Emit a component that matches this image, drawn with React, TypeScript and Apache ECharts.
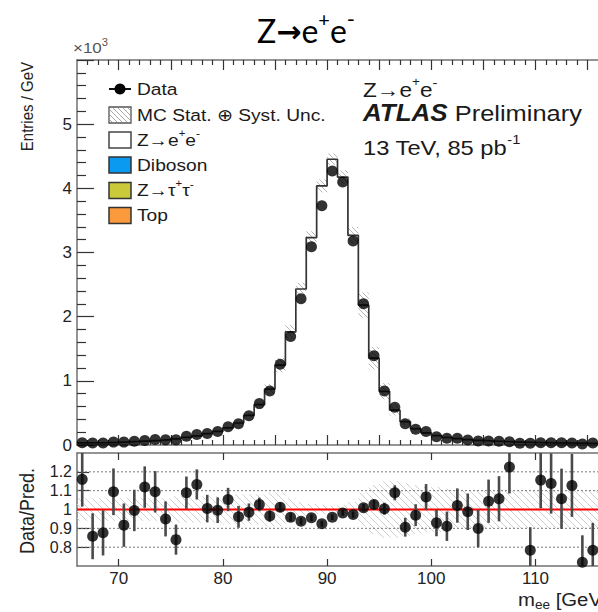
import React, { useEffect, useRef } from "react";
import * as echarts from "echarts";

// ---------- data (values in units of 10^3 entries / GeV) ----------
const X_MIN = 66;
const X_MAX = 116;
const BIN_WIDTH = 1;

const dataValues = [
  0.036, 0.030, 0.032, 0.045, 0.045, 0.058, 0.070, 0.085, 0.080, 0.080,
  0.135, 0.165, 0.180, 0.210, 0.285, 0.330, 0.455, 0.645, 0.840, 1.26,
  1.69, 2.28, 3.09, 3.73, 4.27, 4.10, 3.18, 2.20, 1.39, 0.84,
  0.59, 0.33, 0.245, 0.21, 0.13, 0.104, 0.104, 0.078, 0.063, 0.063,
  0.057, 0.052, 0.026, 0.026, 0.036, 0.036, 0.036, 0.031, 0.016, 0.030,
];

const mcValues = [
  0.032, 0.035, 0.038, 0.042, 0.048, 0.055, 0.063, 0.072, 0.083, 0.097,
  0.118, 0.143, 0.176, 0.212, 0.268, 0.343, 0.461, 0.628, 0.870, 1.245,
  1.762, 2.431, 3.232, 4.037, 4.453, 4.175, 3.268, 2.180, 1.353, 0.837,
  0.542, 0.364, 0.253, 0.190, 0.145, 0.117, 0.098, 0.083, 0.071, 0.062,
  0.055, 0.049, 0.044, 0.040, 0.037, 0.034, 0.032, 0.030, 0.028, 0.027,
];

// relative MC stat (+) syst uncertainty per bin
const bandUnc = [
  0.06, 0.06, 0.06, 0.06, 0.06, 0.06, 0.06, 0.06, 0.06, 0.07,
  0.07, 0.07, 0.07, 0.07, 0.08, 0.08, 0.08, 0.08, 0.09, 0.09,
  0.06, 0.04, 0.03, 0.025, 0.02, 0.025, 0.04, 0.09, 0.13, 0.15,
  0.15, 0.14, 0.13, 0.12, 0.12, 0.11, 0.10, 0.10, 0.10, 0.10,
  0.10, 0.10, 0.10, 0.10, 0.10, 0.10, 0.10, 0.10, 0.10, 0.10,
];

const ratioValues: (number | null)[] = [
  1.16, 0.858, 0.876, 1.094, 0.917, 0.995, 1.119, 1.094, 0.95, 0.84,
  1.089, 1.133, 1.005, 0.996, 1.053, 0.961, 0.986, 1.027, 0.965, 1.012,
  0.959, 0.938, 0.956, 0.924, 0.959, 0.982, 0.973, 1.009, 1.027, 1.004,
  1.089, 0.906, 0.97, 1.067, 0.929, 0.911, 1.021, 0.988, 0.899, 1.044,
  1.057, 1.225, null, 0.784, 1.156, 1.138, 1.057, 1.128, 0.72, 0.784,
];

const ratioErrors = [
  0.145, 0.122, 0.12, 0.124, 0.115, 0.11, 0.11, 0.11, 0.093, 0.08,
  0.086, 0.08, 0.073, 0.068, 0.062, 0.058, 0.046, 0.036, 0.03, 0.025,
  0.022, 0.019, 0.017, 0.016, 0.015, 0.015, 0.017, 0.02, 0.025, 0.032,
  0.04, 0.05, 0.058, 0.068, 0.071, 0.078, 0.091, 0.097, 0.1, 0.115,
  0.12, 0.14, 0.2, 0.122, 0.15, 0.16, 0.16, 0.167, 0.143, 0.145,
];

const xTicks10 = [70, 80, 90, 100, 110];
const xTicks5 = [70, 75, 80, 85, 90, 95, 100, 105, 110, 115];
const xTicks1 = [
  67, 68, 69, 71, 72, 73, 74, 76, 77, 78, 79, 81, 82, 83, 84, 86, 87, 88, 89,
  91, 92, 93, 94, 96, 97, 98, 99, 101, 102, 103, 104, 106, 107, 108, 109,
  111, 112, 113, 114,
];
const ratioTicks = [0.8, 0.9, 1, 1.1, 1.2];
const ratioGridLines = [0.8, 0.9, 1.1, 1.2];

const legendColors = ["#0a9bf0", "#c9c93a", "#fb9a3c"];

// ---------- helpers ----------
const FONT = "Liberation Sans";
const STRETCH = 1.13;
let measureCtx: CanvasRenderingContext2D | null = null;
function measure(font: string, text: string) {
  if (!measureCtx) measureCtx = document.createElement("canvas").getContext("2d");
  measureCtx!.font = font;
  return measureCtx!.measureText(text).width;
}

type Piece = { t: string; size: number; bold?: boolean; italic?: boolean; dy?: number; family?: string };

function textRun(
  x: number,
  cy: number,
  pieces: Piece[],
  opts: { align?: "left" | "center"; scaleX?: number; color?: string } = {}
) {
  let cur = 0;
  const children: any[] = [];
  const color = opts.color || "#1a1a1a";
  for (const p of pieces) {
    const fam = p.family || FONT;
    const font = `${p.italic ? "italic " : ""}${p.bold ? "bold " : ""}${p.size}px "${fam}"`;
    const w = measure(font, p.t);
    children.push({
      type: "text",
      x: cur,
      y: p.dy || 0,
      style: {
        text: p.t,
        font,
        fill: color,
        align: "left",
        textAlign: "left",
        verticalAlign: "middle",
        textVerticalAlign: "middle",
      },
    });
    cur += w;
  }
  const sx = opts.scaleX || 1;
  const startX = opts.align === "center" ? x - (cur * sx) / 2 : x;
  return { type: "group", x: startX, y: cy, scaleX: sx, children, silent: true };
}

function hatchLines(x0: number, y0: number, x1: number, y1: number, spacing: number, color: string) {
  const left = Math.min(x0, x1), right = Math.max(x0, x1);
  const top = Math.min(y0, y1), bottom = Math.max(y0, y1);
  const out: any[] = [];
  const cStart = Math.ceil((left - bottom) / spacing) * spacing;
  for (let c = cStart; c <= right - top; c += spacing) {
    const lo = Math.max(left, top + c);
    const hi = Math.min(right, bottom + c);
    if (hi > lo) {
      out.push({
        type: "line",
        shape: { x1: lo, y1: lo - c, x2: hi, y2: hi - c },
        style: { stroke: color, lineWidth: 1 },
        silent: true,
      });
    }
  }
  return out;
}

function buildOption() {
  const binCenters = dataValues.map((_, i) => X_MIN + BIN_WIDTH * (i + 0.5));
  const stepData = mcValues.map((v, i) => [X_MIN + i * BIN_WIDTH, v]);
  stepData.push([X_MAX, mcValues[mcValues.length - 1]]);

  const ratioPts: number[][] = [];
  binCenters.forEach((c, i) => {
    const r = ratioValues[i];
    if (r !== null) ratioPts.push([c, r, ratioErrors[i]]);
  });

  const frameLine = { show: true, lineStyle: { color: "#707070", width: 1.5 } };
  const tickStyle = { color: "#333", width: 1.2 };

  const baseX = {
    type: "value",
    min: X_MIN,
    max: X_MAX,
    splitLine: { show: false },
    axisLabel: { show: false },
  };

  const xAxis: any[] = [
    { ...baseX, gridIndex: 0, position: "bottom", axisLine: frameLine,
      axisTick: { show: true, inside: true, length: 10, customValues: xTicks5, lineStyle: tickStyle } },
    { ...baseX, gridIndex: 0, position: "bottom", axisLine: { show: false },
      axisTick: { show: true, inside: true, length: 5, customValues: xTicks1, lineStyle: tickStyle } },
    { ...baseX, gridIndex: 0, position: "top", axisLine: frameLine,
      axisTick: { show: true, inside: true, length: 10, customValues: xTicks5, lineStyle: tickStyle } },
    { ...baseX, gridIndex: 0, position: "top", axisLine: { show: false },
      axisTick: { show: true, inside: true, length: 5, customValues: xTicks1, lineStyle: tickStyle } },
    { ...baseX, gridIndex: 1, position: "bottom", axisLine: frameLine,
      axisTick: { show: true, inside: true, length: 7, customValues: xTicks10, lineStyle: tickStyle },
      axisLabel: { show: true, customValues: xTicks10, margin: 4, fontSize: 17, color: "#222", fontFamily: FONT } },
    { ...baseX, gridIndex: 1, position: "top", axisLine: frameLine,
      axisTick: { show: true, inside: true, length: 7, customValues: xTicks10, lineStyle: tickStyle } },
  ];

  const yAxis: any[] = [
    {
      type: "value", gridIndex: 0, min: 0, max: 6, interval: 1, position: "left",
      axisLine: frameLine,
      axisTick: { show: true, inside: true, length: 17, lineStyle: tickStyle },
      minorTick: { show: true, splitNumber: 5, length: 9, lineStyle: tickStyle },
      splitLine: { show: false },
      axisLabel: {
        margin: 5, fontSize: 17, color: "#222", fontFamily: FONT,
        formatter: (v: number) => (v === 6 ? "" : String(v)),
      },
    },
    {
      type: "value", gridIndex: 1, min: 0.7, max: 1.3, position: "left",
      axisLine: frameLine,
      axisTick: { show: true, inside: true, length: 12, customValues: ratioTicks, lineStyle: tickStyle },
      splitLine: { show: false },
      axisLabel: { customValues: ratioTicks, margin: 5, fontSize: 16, color: "#222", fontFamily: FONT },
    },
  ];

  const series: any[] = [
    {
      type: "custom", xAxisIndex: 0, yAxisIndex: 0, z: 1, silent: true,
      encode: { x: 0, y: 1 },
      data: binCenters.map((c, i) => [c, mcValues[i], bandUnc[i]]),
      renderItem: (_p: any, api: any) => {
        const c = api.value(0), mc = api.value(1), u = api.value(2);
        const a = api.coord([c - BIN_WIDTH / 2, mc * (1 + u)]);
        const b = api.coord([c + BIN_WIDTH / 2, mc * (1 - u)]);
        return { type: "group", children: hatchLines(a[0], a[1], b[0], b[1], 5, "#b4b4b4") };
      },
    },
    {
      type: "line", xAxisIndex: 0, yAxisIndex: 0, z: 2, step: "end", symbol: "none",
      data: stepData, lineStyle: { color: "#333", width: 1.7 }, silent: true,
    },
    {
      type: "scatter", xAxisIndex: 0, yAxisIndex: 0, z: 3, symbol: "circle", symbolSize: 11,
      data: binCenters.map((c, i) => [c, dataValues[i]]), itemStyle: { color: "#000" }, silent: true,
    },
    {
      type: "custom", xAxisIndex: 4, yAxisIndex: 1, z: 1, silent: true,
      encode: { x: 0, y: 1 },
      data: binCenters.map((c, i) => [c, 1, bandUnc[i]]),
      renderItem: (_p: any, api: any) => {
        const c = api.value(0), u = api.value(2);
        const a = api.coord([c - BIN_WIDTH / 2, 1 + u]);
        const b = api.coord([c + BIN_WIDTH / 2, 1 - u]);
        return { type: "group", children: hatchLines(a[0], a[1], b[0], b[1], 7, "#cdcdcd") };
      },
    },
    ...ratioGridLines.map((v) => ({
      type: "line", xAxisIndex: 4, yAxisIndex: 1, z: 2, symbol: "none", silent: true,
      data: [[X_MIN, v], [X_MAX, v]],
      lineStyle: { color: "#777", width: 1, type: [2, 2] },
    })),
    {
      type: "line", xAxisIndex: 4, yAxisIndex: 1, z: 3, symbol: "none", silent: true,
      data: [[X_MIN, 1], [X_MAX, 1]], lineStyle: { color: "#ff0000", width: 2 },
    },
    {
      type: "custom", xAxisIndex: 4, yAxisIndex: 1, z: 4, silent: true,
      encode: { x: 0, y: 1 },
      data: ratioPts,
      renderItem: (_p: any, api: any) => {
        const c = api.value(0), r = api.value(1), e = api.value(2);
        const hi = Math.min(r + e, 1.3), lo = Math.max(r - e, 0.7);
        const a = api.coord([c, hi]);
        const b = api.coord([c, lo]);
        return {
          type: "line",
          shape: { x1: a[0], y1: a[1], x2: b[0], y2: b[1] },
          style: { stroke: "#4a4a4a", lineWidth: 2.6 },
        };
      },
    },
    {
      type: "scatter", xAxisIndex: 4, yAxisIndex: 1, z: 5, symbol: "circle", symbolSize: 11,
      data: ratioPts.map((p) => [p[0], p[1]]), itemStyle: { color: "#000" }, silent: true,
    },
  ];

  // ---------- graphic: title, legend, labels ----------
  const g: any[] = [];
  g.push(
    textRun(306, 30, [
      { t: "Z", size: 32, family: "Lato" },
      { t: "→", size: 30, bold: true, family: "DejaVu Sans", dy: 1 },
      { t: "e", size: 32, family: "Lato" },
      { t: "+", size: 20, family: "Lato", dy: -11 },
      { t: "e", size: 32, family: "Lato" },
      { t: "-", size: 22, family: "Lato", dy: -12 },
    ], { align: "center", color: "#000" })
  );

  g.push(textRun(73, 48, [{ t: "×10", size: 15 }, { t: "3", size: 10, dy: -6 }], { scaleX: STRETCH, color: "#555" }));

  g.push({
    type: "text", x: 27, y: 62, rotation: Math.PI / 2, scaleY: STRETCH, silent: true,
    style: { text: "Entries / GeV", font: `15px "${FONT}"`, fill: "#222", align: "right", textAlign: "right", verticalAlign: "middle", textVerticalAlign: "middle" },
  });
  g.push({
    type: "text", x: 27, y: 511, rotation: Math.PI / 2, scaleY: STRETCH, silent: true,
    style: { text: "Data/Pred.", font: `18px "${FONT}"`, fill: "#222", align: "center", textAlign: "center", verticalAlign: "middle", textVerticalAlign: "middle" },
  });
  g.push(textRun(518, 600, [
    { t: "m", size: 18 },
    { t: "ee", size: 12, dy: 5 },
    { t: " [GeV]", size: 18 },
  ], { scaleX: STRETCH, color: "#222" }));

  g.push(textRun(363, 90, [
    { t: "Z→e", size: 20 },
    { t: "+", size: 12, dy: -8 },
    { t: "e", size: 20 },
    { t: "-", size: 13, dy: -8 },
  ], { scaleX: STRETCH }));
  g.push(textRun(363, 113.5, [
    { t: "ATLAS", size: 23, bold: true, italic: true },
    { t: " Preliminary", size: 22.5 },
  ], { scaleX: STRETCH }));
  g.push(textRun(363, 147.5, [
    { t: "13 TeV, 85 pb", size: 21 },
    { t: "-1", size: 13, dy: -8 },
  ], { scaleX: STRETCH }));

  const LX = 109, LW = 22, LH = 16, TX = 137;
  g.push({ type: "line", shape: { x1: LX, y1: 89, x2: LX + LW, y2: 89 }, style: { stroke: "#111", lineWidth: 2 }, silent: true });
  g.push({ type: "circle", shape: { cx: LX + LW / 2, cy: 89, r: 5.5 }, style: { fill: "#000" }, silent: true });
  g.push(textRun(TX, 89, [{ t: "Data", size: 17 }], { scaleX: STRETCH }));
  g.push({ type: "rect", shape: { x: LX, y: 107, width: LW, height: LH }, style: { fill: "#fff", stroke: "#555", lineWidth: 1.3 }, silent: true });
  g.push({ type: "group", children: hatchLines(LX + 1, 108, LX + LW - 1, 107 + LH - 1, 5, "#aaaaaa"), silent: true });
  g.push(textRun(TX, 115, [{ t: "MC Stat. ⊕ Syst. Unc.", size: 17 }], { scaleX: STRETCH }));
  g.push({ type: "rect", shape: { x: LX, y: 132, width: LW, height: LH }, style: { fill: "#fff", stroke: "#444", lineWidth: 1.5 }, silent: true });
  g.push(textRun(TX, 140, [
    { t: "Z→e", size: 17 }, { t: "+", size: 10, dy: -7 }, { t: "e", size: 17 }, { t: "-", size: 11, dy: -7 },
  ], { scaleX: STRETCH }));
  g.push({ type: "rect", shape: { x: LX, y: 157, width: LW, height: LH }, style: { fill: legendColors[0], stroke: "#333", lineWidth: 1.5 }, silent: true });
  g.push(textRun(TX, 165, [{ t: "Diboson", size: 17 }], { scaleX: STRETCH }));
  g.push({ type: "rect", shape: { x: LX, y: 182.5, width: LW, height: LH }, style: { fill: legendColors[1], stroke: "#333", lineWidth: 1.5 }, silent: true });
  g.push(textRun(TX, 190.5, [
    { t: "Z→τ", size: 17 }, { t: "+", size: 10, dy: -7 }, { t: "τ", size: 17 }, { t: "-", size: 11, dy: -7 },
  ], { scaleX: STRETCH }));
  g.push({ type: "rect", shape: { x: LX, y: 207.5, width: LW, height: LH }, style: { fill: legendColors[2], stroke: "#333", lineWidth: 1.5 }, silent: true });
  g.push(textRun(TX, 215.5, [{ t: "Top", size: 17 }], { scaleX: STRETCH }));

  return {
    animation: false,
    backgroundColor: "#fff",
    textStyle: { fontFamily: FONT },
    grid: [
      { left: 77, top: 60, width: 527, height: 385 },
      { left: 77, top: 453, width: 527, height: 113 },
    ],
    xAxis,
    yAxis,
    series,
    graphic: { elements: g },
  };
}

export default function App() {
  const ref = useRef<HTMLDivElement>(null);
  useEffect(() => {
    if (!ref.current) return;
    const chart = echarts.init(ref.current, null, { renderer: "svg" });
    chart.setOption(buildOption() as any);
    return () => chart.dispose();
  }, []);
  return (
    <div
      ref={ref}
      style={{ position: "absolute", left: 0, top: 0, width: 598, height: 612, background: "#fff" }}
    />
  );
}
